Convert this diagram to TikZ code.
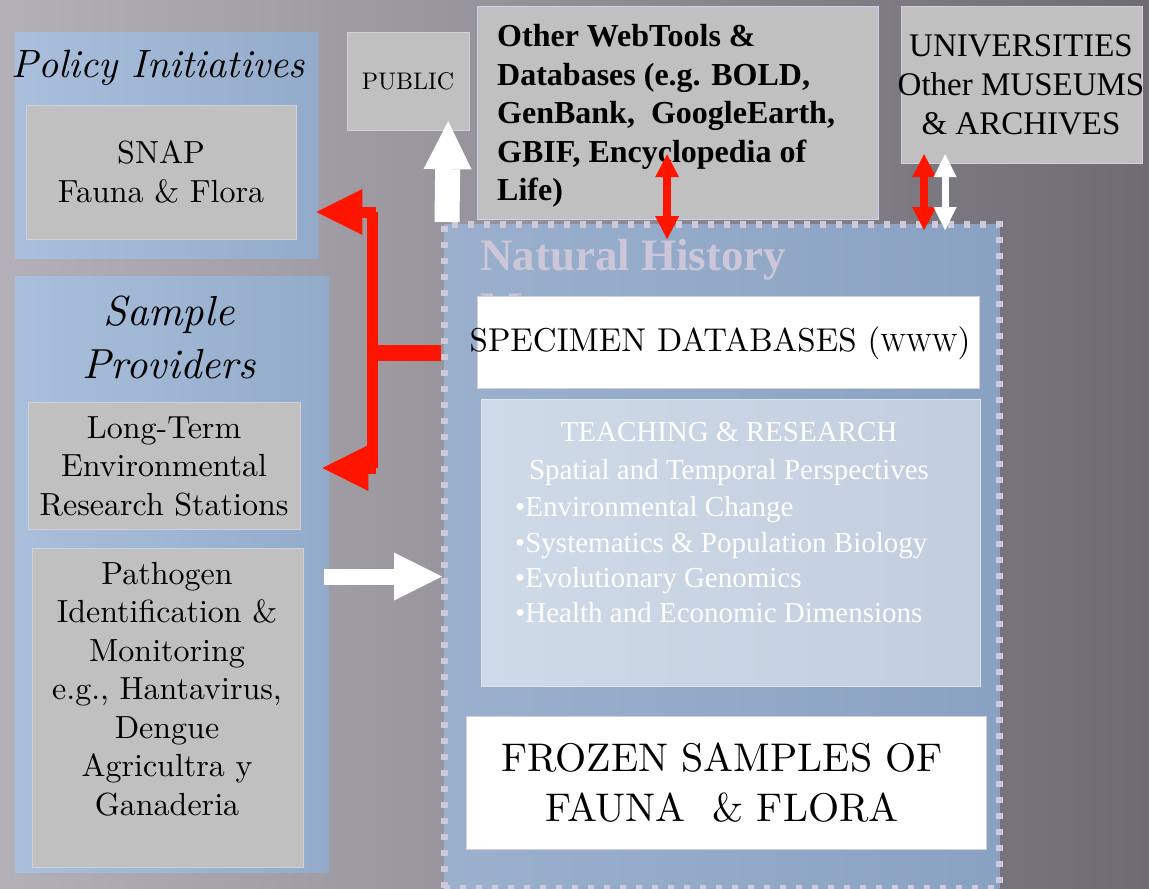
\documentclass[tikz,border=0pt]{standalone}
\usepackage{fontspec}
\setmainfont{lmroman10-regular.otf}[ItalicFont=lmroman10-italic.otf, BoldFont=lmroman10-bold.otf]
\newfontfamily\tnrfont{Liberation Serif}
\usetikzlibrary{arrows.meta,calc}
\definecolor{bgL}{HTML}{B3B0B7}
\definecolor{bgM}{HTML}{96939A}
\definecolor{bgR}{HTML}{6E6C72}
\definecolor{panelL}{HTML}{A9BFDC}
\definecolor{panelR}{HTML}{93ABCA}
\definecolor{boxgray}{HTML}{C0C0C0}
\definecolor{boxedge}{HTML}{D4CFDD}
\definecolor{webedge}{HTML}{C9D2F2}
\definecolor{museL}{HTML}{9AB0CD}
\definecolor{museR}{HTML}{8AA2C2}
\definecolor{dotcol}{HTML}{D0C9DB}
\definecolor{teachL}{HTML}{CFDAE8}
\definecolor{teachR}{HTML}{C2CEDE}
\definecolor{titlecol}{HTML}{CCC6D8}
\definecolor{linkred}{HTML}{FF1400}
\newcommand\setfs[2]{\fontsize{#1}{#2}\selectfont}

\begin{document}
\begin{tikzpicture}[x=1pt,y=-1pt,
  panel/.style={left color=panelL, right color=panelR, draw=none, inner sep=0pt, anchor=north west},
  graybox/.style={fill=boxgray, draw=boxedge, line width=1.2pt, inner sep=0pt, anchor=north west},
  whitebox/.style={fill=white, draw=boxedge, line width=1.2pt, inner sep=0pt, anchor=north west},
  pala/.style={font=\setfs{32}{38.5}, align=center, text=black, inner sep=0pt},
  italt/.style={font=\setfs{39.5}{53}\itshape, align=center, text=black, inner sep=0pt},
  tnr/.style={font=\tnrfont\setfs{33}{39}, align=center, text=black, inner sep=0pt},
  tnrbold/.style={font=\tnrfont\bfseries\setfs{32}{38.5}, align=left, text=black, inner sep=0pt},
  teach/.style={font=\tnrfont\setfs{29}{38}, text=white, inner sep=0pt},
  redbar/.style={draw=linkred, line width=11pt},
  redhead/.style={-{Triangle[length=46pt,width=46pt,line width=0pt]}},
  redthin/.style={draw=linkred, line width=8pt,
    {Triangle[length=23pt,width=24pt,line width=0pt]}-{Triangle[length=23pt,width=24pt,line width=0pt]}},
  whitethin/.style={draw=white, line width=7pt,
    {Triangle[length=23pt,width=23pt,line width=0pt]}-{Triangle[length=23pt,width=23pt,line width=0pt]}},
  fatwhite/.style={draw=white, -{Triangle[length=48pt,width=48pt,line width=0pt]}}
]
\useasboundingbox (0,0) rectangle (1149,889);
% backdrop
\shade[left color=bgL, middle color=bgM, right color=bgR] (0,0) rectangle (1149,889);

% left column panels
\node[panel, minimum width=303, minimum height=226] (policy) at (15,32) {};
\node[panel, minimum width=314, minimum height=596] (sample) at (15,276) {};
\node[graybox, minimum width=270, minimum height=134] (snap) at (26,105) {};
\node[graybox, minimum width=272, minimum height=127] (lter) at (28,402) {};
\node[graybox, minimum width=271, minimum height=319] (pathogen) at (32,548) {};

% top row boxes
\node[graybox, minimum width=122, minimum height=98] (public) at (347,32) {};
\node[graybox, draw=webedge, minimum width=401, minimum height=213] (web) at (477,6) {};
\node[graybox, minimum width=241, minimum height=157] (uni) at (901,6) {};

% museum container
\node[left color=museL, right color=museR, draw=dotcol, line width=6.5pt,
      dash pattern=on 6pt off 10pt, inner sep=0pt, anchor=north west,
      minimum width=555, minimum height=664] (nh) at (441,221) {};
\node[font=\tnrfont\bfseries\setfs{45}{45}, text=titlecol, anchor=base west, inner sep=0pt]
  (nhtitle) at (480,270) {Natural History};
% second title line, mostly covered by the specimen box
\begin{scope}
  \clip (441,280) rectangle (996,296);
  \node[font=\tnrfont\bfseries\setfs{45}{45}, text=titlecol, anchor=base west, inner sep=0pt]
    (nhtitleb) at (480,323) {Museum};
\end{scope}
\node[whitebox, minimum width=502, minimum height=92] (spec) at (477,296) {};
\node[left color=teachL, right color=teachR, draw=teachL!70!white, line width=1.2pt,
      inner sep=0pt, anchor=north west, minimum width=499, minimum height=287] (teachbox) at (481,399) {};
\node[whitebox, minimum width=520, minimum height=133] (frozen) at (466,716) {};

% texts
\node[italt] (policyT) at (158,68) {Policy Initiatives};
\node[pala] (snapT) at (161,172) {SNAP\\Fauna \& Flora};
\node[italt, font=\setfs{42}{53}\itshape] (sampleT) at (169,337) {Sample\\Providers};
\node[pala] (lterT) at (164,466) {Long-Term\\Environmental\\Research Stations};
\node[pala] (pathT) at (167,689) {Pathogen\\Identification \&\\Monitoring\\e.g., Hantavirus,\\Dengue\\Agricultra y\\Ganaderia};
\node[pala, font=\setfs{24}{30}] (publicT) at (408,81) {PUBLIC};
\node[tnrbold, anchor=west] (webT) at (497,116) {Other WebTools \&\\Databases (e.g. BOLD,\\GenBank,\ \ GoogleEarth,\\GBIF, Encyclopedia of\\Life)};
\node[tnr] (uniT) at (1021,85) {UNIVERSITIES\\Other MUSEUMS\\\& ARCHIVES};
\node[pala, font=\setfs{33}{38}] (specT) at (720,343) {SPECIMEN DATABASES ({\setfs{25}{30}WWW})};
\node[teach, align=center] (teachT) at (729,454) {TEACHING \& RESEARCH\\Spatial and Temporal Perspectives};
\node[teach, align=left, anchor=west, font=\tnrfont\setfs{29}{35.3}] (bulletT) at (515,560)
  {•Environmental Change\\•Systematics \& Population Biology\\•Evolutionary Genomics\\•Health and Economic Dimensions};
\node[pala, font=\setfs{40}{50}] (frozenT) at (722,783) {FROZEN SAMPLES OF\\FAUNA\ \ \& FLORA};

% red bracket from the specimen databases to the policy and sample panels
\coordinate (brTop) at (372,212);
\coordinate (brBot) at (372,468);
\draw[redbar, line width=16pt] ($(spec.west -| nh.west)+(0,10)$) -- ($(spec.west -| brTop)+(5,10)$);
\draw[redbar] (brTop) -- (brBot);
\draw[redbar, redhead] ($(brTop)+(4,0)$) -- ($(policy.east |- brTop)+(-2,0)$);
\draw[redbar, redhead] ($(brBot)+(4,0)$) -- ($(sample.east |- brBot)+(-7,0)$);

% museum to the public
\draw[fatwhite, line width=25pt] ($(nh.north west)+(6,1)$) -- ($(public.south east)+(-22,-10)$);
% external resources exchange
\draw[redthin] ($(web.south)+(-11,-66)$) -- ($(web.south)+(-11,19)$);
\draw[redthin] ($(uni.south)+(-98,-10)$) -- ($(uni.south)+(-98,66)$);
\draw[whitethin] ($(uni.south)+(-77,-10)$) -- ($(uni.south)+(-77,66)$);
% samples flowing into the museum
\draw[fatwhite, line width=16pt] ($(pathogen.east)+(20,-131.5)$) -- ($(pathogen.east -| nh.west)+(1,-131.5)$);
\end{tikzpicture}
\end{document}
